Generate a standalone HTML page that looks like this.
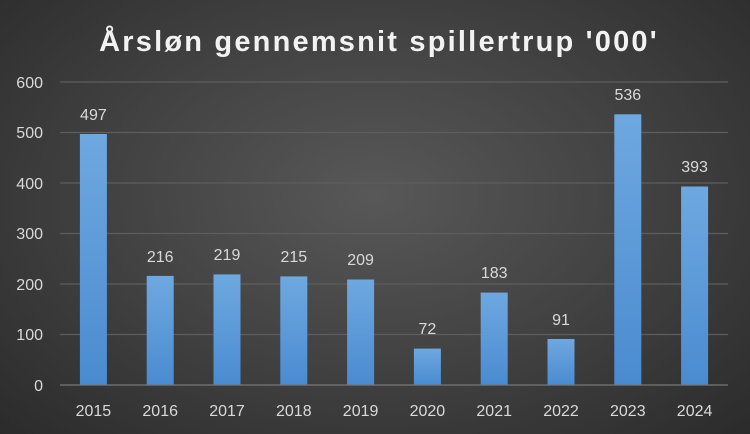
<!DOCTYPE html>
<html><head><style>
body{margin:0;width:750px;height:434px;overflow:hidden;background:radial-gradient(ellipse at 50% 45%,#585858 0%,#444 45%,#2b2b2b 100%);font-family:"Liberation Sans",sans-serif}
</style></head><body>
<svg width="750" height="434" xmlns="http://www.w3.org/2000/svg" style="position:absolute;left:0;top:0">
<defs><linearGradient id="g" x1="0" y1="0" x2="0" y2="1"><stop offset="0" stop-color="#6ea8e0"/><stop offset="1" stop-color="#4a8bd0"/></linearGradient></defs>
<text x="379" y="51" text-anchor="middle" font-size="29" font-weight="bold" fill="#f2f2f2" letter-spacing="2.2">Årsløn gennemsnit spillertrup '000'</text>
<g stroke="#5e5e5e" stroke-width="1.3">
<line x1="60" x2="728" y1="82" y2="82"/><line x1="60" x2="728" y1="132.5" y2="132.5"/><line x1="60" x2="728" y1="183" y2="183"/><line x1="60" x2="728" y1="233.5" y2="233.5"/><line x1="60" x2="728" y1="284" y2="284"/><line x1="60" x2="728" y1="334.5" y2="334.5"/></g>
<g font-size="16" fill="#d9d9d9" text-anchor="end">
<text x="43" y="88">600</text><text x="43" y="138">500</text><text x="43" y="189">400</text><text x="43" y="239">300</text><text x="43" y="290">200</text><text x="43" y="340">100</text><text x="43" y="391">0</text></g>
<g fill="url(#g)">
<rect x="79.9" y="134" width="27" height="251"/>
<rect x="146.7" y="275.9" width="27" height="109.1"/>
<rect x="213.5" y="274.4" width="27" height="110.6"/>
<rect x="280.3" y="276.4" width="27" height="108.6"/>
<rect x="347.1" y="279.5" width="27" height="105.5"/>
<rect x="413.9" y="348.6" width="27" height="36.4"/>
<rect x="480.7" y="292.6" width="27" height="92.4"/>
<rect x="547.5" y="339" width="27" height="46"/>
<rect x="614.3" y="114.3" width="27" height="270.7"/>
<rect x="681.1" y="186.5" width="27" height="198.5"/>
</g>
<line x1="60" x2="728" y1="385" y2="385" stroke="#777" stroke-width="1.3"/>
<g font-size="16" fill="#d9d9d9" text-anchor="middle">
<text x="93.4" y="120">497</text><text x="160.2" y="262">216</text><text x="227" y="260">219</text><text x="293.8" y="262">215</text><text x="360.6" y="265">209</text><text x="427.4" y="334">72</text><text x="494.2" y="278">183</text><text x="561" y="325">91</text><text x="627.8" y="100">536</text><text x="694.6" y="172">393</text>
<text x="93.4" y="416">2015</text><text x="160.2" y="416">2016</text><text x="227" y="416">2017</text><text x="293.8" y="416">2018</text><text x="360.6" y="416">2019</text><text x="427.4" y="416">2020</text><text x="494.2" y="416">2021</text><text x="561" y="416">2022</text><text x="627.8" y="416">2023</text><text x="694.6" y="416">2024</text>
</g>
</svg>
</body></html>
